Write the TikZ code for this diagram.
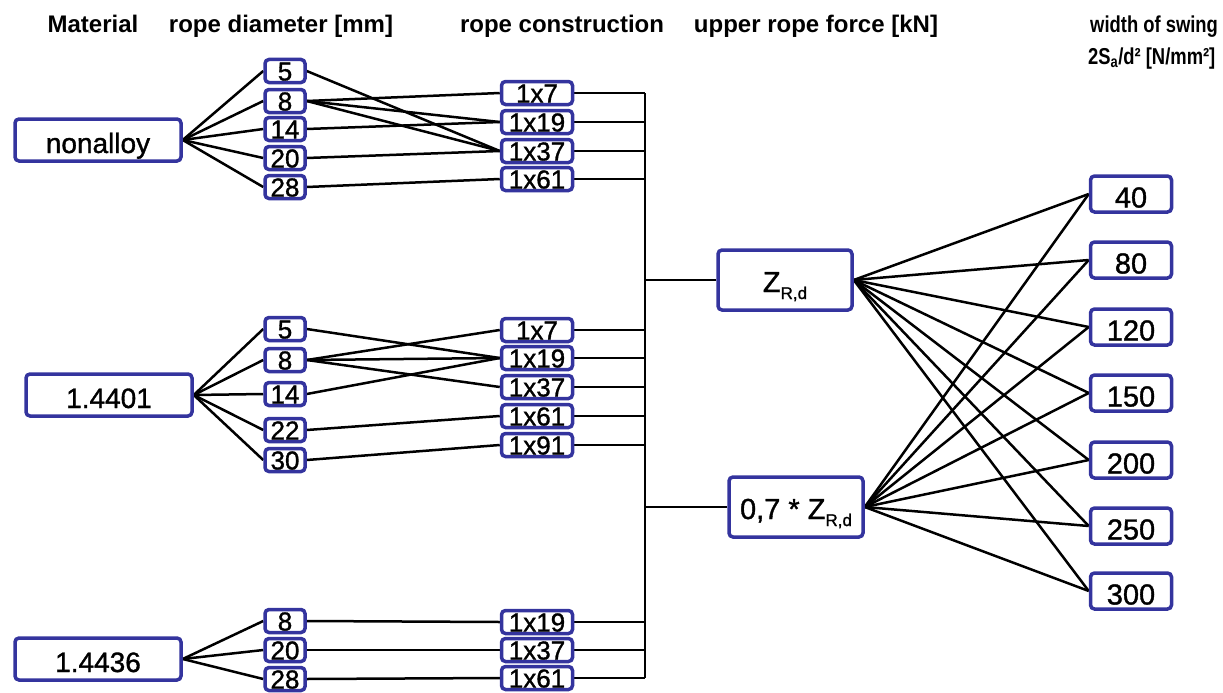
\documentclass[tikz,border=0pt]{standalone}
\usepackage{fontspec}
\setmainfont{Liberation Sans}
\newfontfamily\heavyfont{Liberation Sans}[FakeBold=1.2]
\usetikzlibrary{backgrounds}
\definecolor{boxblue}{RGB}{52,52,158}
\newcommand{\zrd}{Z\raisebox{-7pt}{\fontsize{17}{17}\selectfont R,d}}
\begin{document}
\begin{tikzpicture}[x=1pt,y=-1pt,
  box/.style={draw=boxblue, line width=3.5pt, rounded corners=4pt, fill=white, inner sep=0pt,
    font=\heavyfont\fontsize{28}{28}\selectfont},
  mat/.style={box, minimum width=166pt, minimum height=42pt, text height=26pt, text depth=0pt},
  dia/.style={box, minimum width=40pt, minimum height=23pt, text height=19pt, text depth=0pt, font=\heavyfont\fontsize{26}{26}\selectfont},
  con/.style={box, minimum width=71pt, minimum height=23pt, text height=19pt, text depth=0pt, font=\heavyfont\fontsize{26}{26}\selectfont},
  frc/.style={box, minimum width=134pt, minimum height=60pt, text height=24pt, text depth=0pt, font=\heavyfont\fontsize{29}{29}\selectfont},
  val/.style={box, minimum width=81pt, minimum height=36pt, text height=27pt, text depth=0pt, font=\heavyfont\fontsize{29}{29}\selectfont},
  hdr/.style={font=\bfseries\fontsize{24}{26}\selectfont, inner sep=0pt, anchor=base},
  hdrs/.style={font=\bfseries\fontsize{23}{25}\selectfont, inner sep=0pt, anchor=base west},
  wire/.style={line width=2.5pt, black}]
\useasboundingbox (0,0) rectangle (1223,693);

% headers
\node[hdr] (h1) at (93,33) {Material};
\node[hdr] (h2) at (281,33) {rope diameter [mm]};
\node[hdr] (h3) at (562,33) {rope construction};
\node[hdr] (h4) at (816,33) {upper rope force [kN]};
\node[hdrs] (h5) at (1090,33) {\scalebox{0.8}[1]{width of swing}};
\node[hdrs] (h6) at (1088,64) {\scalebox{0.8}[1]{2S\textsubscript{a}/d² [N/mm²]}};

% materials
\node[mat] (mA) at (98,140) {nonalloy};
\node[mat] (mB) at (109,395) {1.4401};
\node[mat] (mC) at (98,659) {1.4436};

% diameters
\node[dia] (dA1) at (285,71) {5};
\node[dia] (dA2) at (285,101) {8};
\node[dia] (dA3) at (285,129) {14};
\node[dia] (dA4) at (285,158) {20};
\node[dia] (dA5) at (285,187) {28};
\node[dia] (dB1) at (285,329) {5};
\node[dia] (dB2) at (285,360) {8};
\node[dia] (dB3) at (285,394) {14};
\node[dia] (dB4) at (285,430) {22};
\node[dia] (dB5) at (285,460) {30};
\node[dia] (dC1) at (285,621) {8};
\node[dia] (dC2) at (285,650) {20};
\node[dia] (dC3) at (285,679) {28};

% constructions
\node[con] (cA1) at (537,93) {1x7};
\node[con] (cA2) at (537,122) {1x19};
\node[con] (cA3) at (537,151) {1x37};
\node[con] (cA4) at (537,179) {1x61};
\node[con] (cB1) at (537,330) {1x7};
\node[con] (cB2) at (537,358) {1x19};
\node[con] (cB3) at (537,387) {1x37};
\node[con] (cB4) at (537,416) {1x61};
\node[con] (cB5) at (537,445) {1x91};
\node[con] (cC1) at (537,622) {1x19};
\node[con] (cC2) at (537,650) {1x37};
\node[con] (cC3) at (537,678) {1x61};

% forces
\node[frc] (z1) at (785,280) {\zrd};
\node[frc] (z2) at (796,507) {0,7 * \zrd};

% values
\node[val] (v1) at (1131,194) {40};
\node[val] (v2) at (1131,260) {80};
\node[val] (v3) at (1131,327) {120};
\node[val] (v4) at (1131,393) {150};
\node[val] (v5) at (1131,460) {200};
\node[val] (v6) at (1131,526) {250};
\node[val] (v7) at (1131,591) {300};

\coordinate (bt) at (645,93);
\coordinate (bb) at (645,678);

\begin{scope}[on background layer]
  % material to diameter
  \foreach \d in {dA1,dA2,dA3,dA4,dA5} \draw[wire] (mA.east) -- (\d.west);
  \foreach \d in {dB1,dB2,dB3,dB4,dB5} \draw[wire] (mB.east) -- (\d.west);
  \foreach \d in {dC1,dC2,dC3} \draw[wire] (mC.east) -- (\d.west);
  % diameter to construction
  \draw[wire] (dA1.east) -- (cA3.west);
  \draw[wire] (dA2.east) -- (cA1.west);
  \draw[wire] (dA2.east) -- (cA2.west);
  \draw[wire] (dA2.east) -- (cA3.west);
  \draw[wire] (dA3.east) -- (cA2.west);
  \draw[wire] (dA4.east) -- (cA3.west);
  \draw[wire] (dA5.east) -- (cA4.west);
  \draw[wire] (dB1.east) -- (cB2.west);
  \draw[wire] (dB2.east) -- (cB1.west);
  \draw[wire] (dB2.east) -- (cB2.west);
  \draw[wire] (dB2.east) -- (cB3.west);
  \draw[wire] (dB3.east) -- (cB2.west);
  \draw[wire] (dB4.east) -- (cB4.west);
  \draw[wire] (dB5.east) -- (cB5.west);
  \draw[wire] (dC1.east) -- (cC1.west);
  \draw[wire] (dC2.east) -- (cC2.west);
  \draw[wire] (dC3.east) -- (cC3.west);
  % bus
  \draw[wire] (bt) -- (bb);
  \foreach \c in {cA1,cA2,cA3,cA4,cB1,cB2,cB3,cB4,cB5,cC1,cC2,cC3}
    \draw[wire] (\c.east) -- (\c.east -| bt);
  \draw[wire] (z1.west) -- (z1.west -| bt);
  \draw[wire] (z2.west) -- (z2.west -| bt);
  % forces to values
  \foreach \v in {v1,v2,v3,v4,v5,v6,v7} {
    \draw[wire] (z1.east) -- (\v.west);
    \draw[wire] (z2.east) -- (\v.west);
  }
\end{scope}
\end{tikzpicture}
\end{document}
